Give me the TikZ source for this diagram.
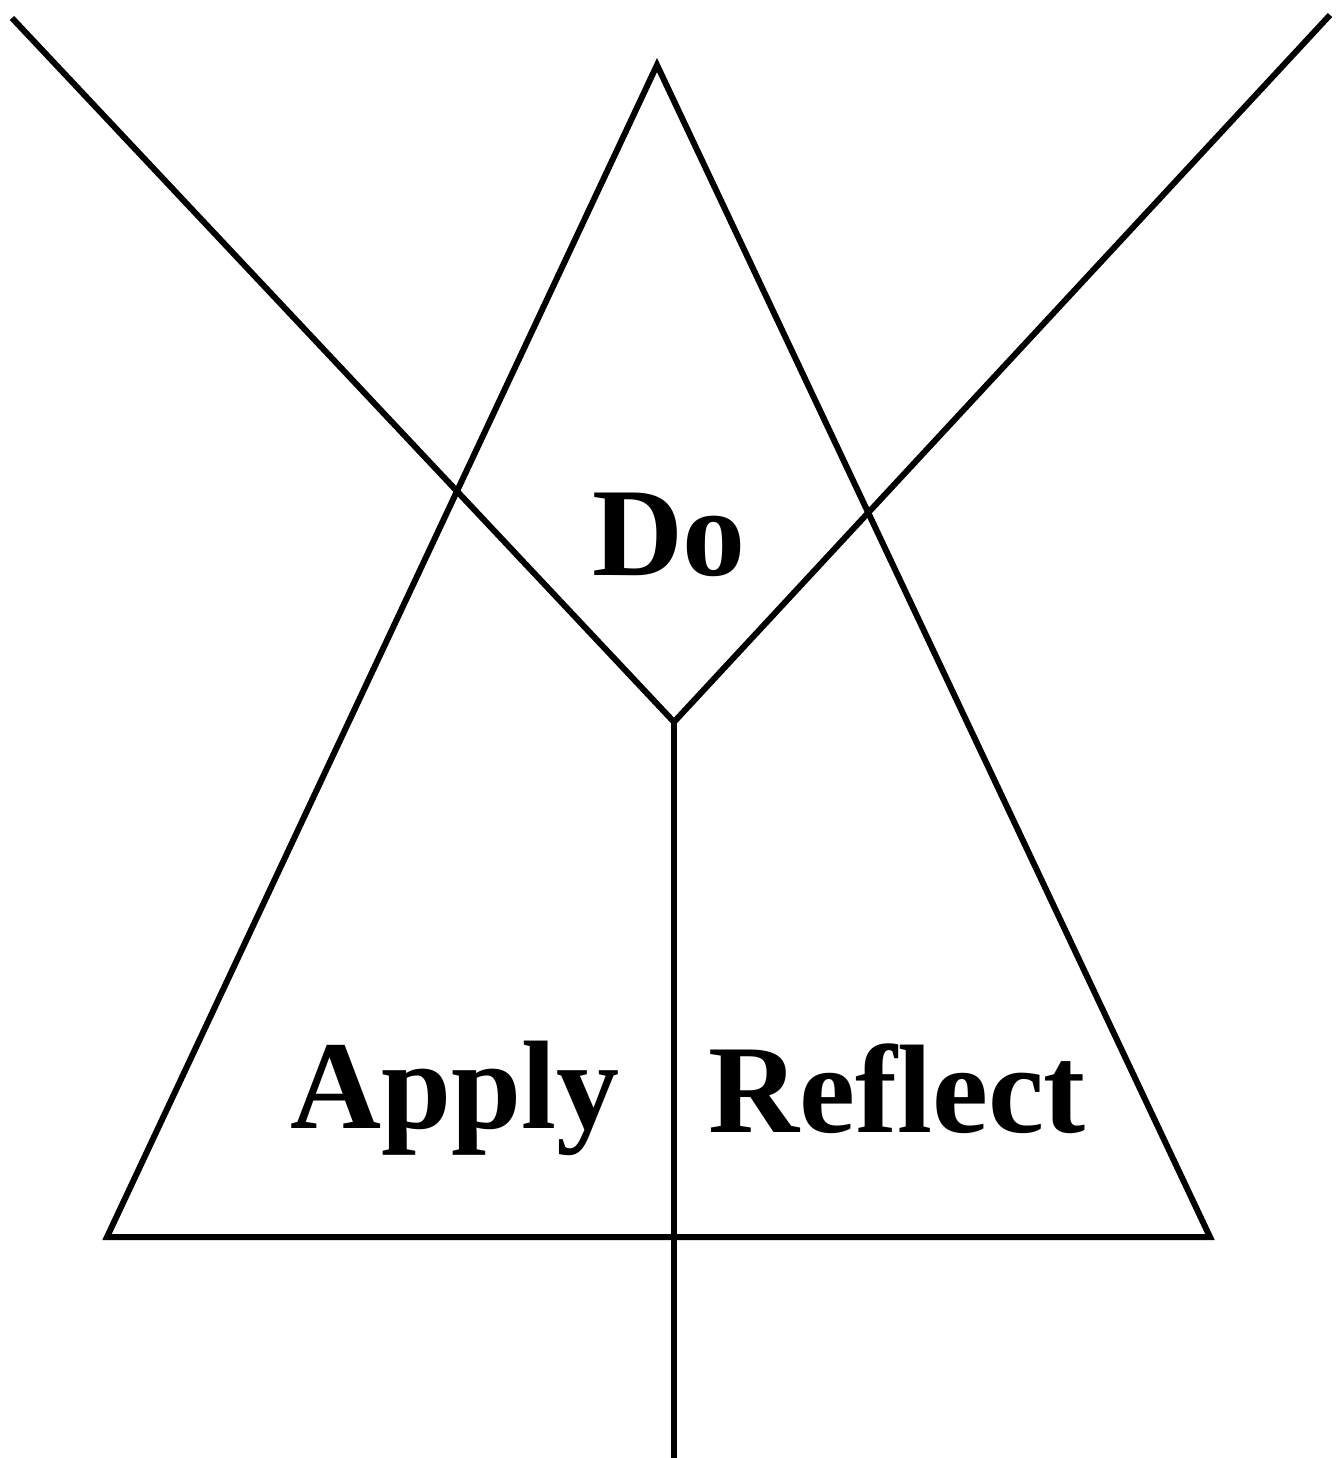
\documentclass[tikz,border=0pt]{standalone}
\usepackage{fontspec}
\setmainfont{Liberation Serif}
\begin{document}
\begin{tikzpicture}[x=0.5pt,y=-0.5pt,
  ln/.style={line width=3pt,line join=miter},
  lbl/.style={font=\bfseries\fontsize{63}{70}\selectfont,anchor=base,inner sep=0pt}]
\useasboundingbox (0,0) rectangle (1343,1458);
\coordinate (apex) at (657,65);
\coordinate (bl) at (107,1237);
\coordinate (br) at (1210,1237);
\coordinate (tl) at (12,18);
\coordinate (tr) at (1330,15);
\coordinate (fork) at (674,722);
\coordinate (bot) at (674,1458);
\draw[ln] (apex) -- (bl) -- (br) -- cycle;
\draw[ln] (tl) -- (fork) -- (tr);
\draw[ln] (fork) -- (bot);
\node[lbl] (do) at (669,575) {Do};
\node[lbl] (apply) at (455,1128) {Apply};
\node[lbl] (reflect) at (897,1132) {Reflect};
\end{tikzpicture}
\end{document}
